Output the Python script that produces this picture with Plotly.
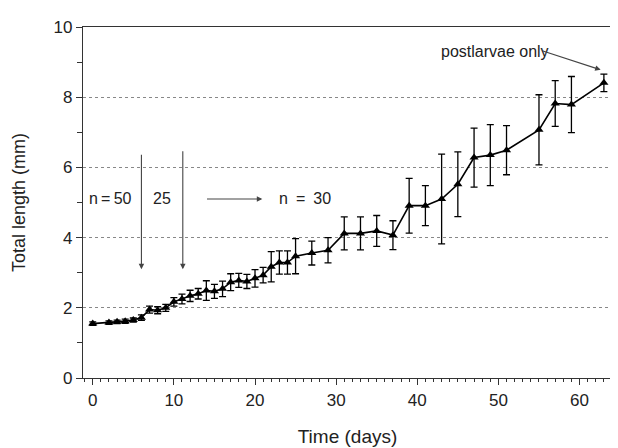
import plotly.graph_objects as go

days = [0, 2, 3, 4, 5, 6, 7, 8, 9, 10, 11, 12, 13, 14, 15, 16, 17, 18, 19, 20,
        21, 22, 23, 24, 25, 27, 29, 31, 33, 35, 37, 39, 41, 43, 45, 47, 49, 51,
        55, 57, 59, 63]
length_mm = [1.55, 1.58, 1.60, 1.62, 1.65, 1.72, 1.95, 1.93, 2.00, 2.17, 2.25,
             2.34, 2.40, 2.49, 2.47, 2.54, 2.73, 2.78, 2.75, 2.84, 2.93, 3.17,
             3.29, 3.29, 3.47, 3.56, 3.64, 4.12, 4.12, 4.19, 4.07, 4.91, 4.91,
             5.10, 5.52, 6.28, 6.35, 6.49, 7.07, 7.82, 7.79, 8.41]
sd_mm = [0.05, 0.05, 0.05, 0.06, 0.06, 0.08, 0.10, 0.10, 0.10, 0.12, 0.14,
         0.16, 0.15, 0.28, 0.20, 0.22, 0.24, 0.20, 0.20, 0.25, 0.22, 0.43,
         0.33, 0.33, 0.50, 0.34, 0.36, 0.47, 0.47, 0.44, 0.41, 0.78, 0.57,
         1.28, 0.92, 0.84, 0.87, 0.70, 1.00, 0.65, 0.80, 0.25]

x_ticks = [0, 10, 20, 30, 40, 50, 60]
y_ticks = [0, 2, 4, 6, 8, 10]

FONT = "Liberation Sans, Arial, Helvetica, sans-serif"

fig = go.Figure()
fig.add_trace(go.Scatter(
    x=days, y=length_mm, mode="lines+markers",
    line=dict(color="black", width=1.6),
    marker=dict(symbol="triangle-up", size=8, color="black"),
    error_y=dict(type="data", array=sd_mm, visible=True, color="black",
                 thickness=1.3, width=3.5),
    showlegend=False, cliponaxis=False,
))

fig.update_layout(
    width=618, height=448,
    margin=dict(l=75, r=14, t=10, b=78),
    paper_bgcolor="white", plot_bgcolor="white",
    font=dict(family=FONT, color="#222", size=17),
    xaxis=dict(
        range=[-1.2, 64.0], tickvals=x_ticks, ticks="outside", ticklen=6,
        tickwidth=1, tickcolor="#333", showline=True, linecolor="#333",
        linewidth=1.2, mirror=True, showgrid=False, zeroline=False,
        minor=dict(dtick=1, ticks="outside", ticklen=3, tickcolor="#333"),
        title=dict(text="Time (days)", font=dict(size=19), standoff=21),
        tickfont=dict(size=17),
    ),
    yaxis=dict(
        range=[0, 10], tickvals=y_ticks, ticks="outside", ticklen=6,
        tickwidth=1, tickcolor="#333", showline=True, linecolor="#333",
        linewidth=1.2, showgrid=True, gridcolor="#888", griddash="dot",
        gridwidth=1, zeroline=False,
        minor=dict(dtick=1, ticks="outside", ticklen=5, tickcolor="#333",
                   showgrid=False),
        title=dict(text="Total length (mm)", font=dict(size=18), standoff=23),
        tickfont=dict(size=17),
    ),
)

ann_font = dict(family=FONT, size=16, color="#222")
fig.add_annotation(x=2.2, y=5.1, text="n\u2009=\u200950", showarrow=False, font=ann_font)
fig.add_annotation(x=8.5, y=5.1, text="25", showarrow=False, font=ann_font)
fig.add_annotation(x=26.1, y=5.1, text="n\u2002=\u200230", showarrow=False, font=ann_font)
fig.add_annotation(x=49.6, y=9.3, text="postlarvae only", showarrow=False, font=ann_font)

arrow = dict(showarrow=True, arrowhead=2, arrowsize=1, arrowwidth=1.1,
             arrowcolor="#444", axref="x", ayref="y", text="")
fig.add_annotation(x=6.0, y=3.1, ax=6.0, ay=6.4, **arrow)
fig.add_annotation(x=11.1, y=3.1, ax=11.1, ay=6.5, **arrow)
fig.add_annotation(x=20.9, y=5.1, ax=13.9, ay=5.1, **arrow)
fig.add_annotation(x=62.6, y=8.78, ax=55.3, ay=9.33, **arrow)

fig.write_html("out.html")
